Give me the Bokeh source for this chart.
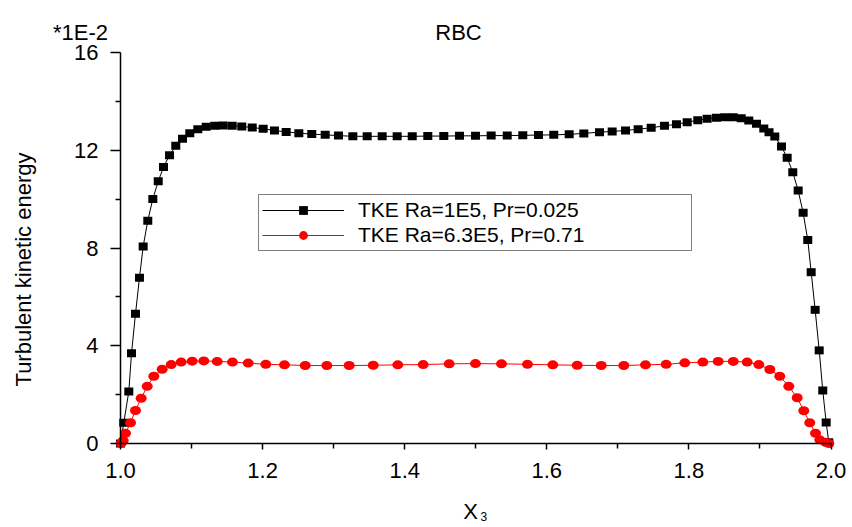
import math
from bokeh.plotting import figure
from bokeh.models import (ColumnDataSource, Range1d, FixedTicker, Label, Legend,
                          LegendItem, PrintfTickFormatter)
from bokeh.embed import file_html
from bokeh.resources import INLINE

# ---------------- data ----------------
x_black = [1.0000, 1.0046, 1.0117, 1.0155, 1.0211, 1.0267, 1.0319, 1.0384, 1.0455,
           1.0531, 1.0605, 1.0690, 1.0778, 1.0873, 1.0975, 1.1088, 1.1206, 1.1327,
           1.1445, 1.1572, 1.1707, 1.1854, 1.2008, 1.2167, 1.2332, 1.2510, 1.2692,
           1.2881, 1.3068, 1.3270, 1.3472, 1.3683, 1.3894, 1.4106, 1.4325, 1.4550,
           1.4771, 1.4996, 1.5217, 1.5443, 1.5662, 1.5883, 1.6098, 1.6315, 1.6521,
           1.6742, 1.6920, 1.7108, 1.7286, 1.7469, 1.7656, 1.7825, 1.7976, 1.8125,
           1.8257, 1.8388, 1.8505, 1.8624, 1.8736, 1.8843, 1.8951, 1.9054, 1.9128,
           1.9209, 1.9303, 1.9383, 1.9462, 1.9538, 1.9608, 1.9673, 1.9721, 1.9777,
           1.9834, 1.9884, 1.9932, 1.9969]
tke_black = [0.00, 0.85, 2.13, 3.69, 5.31, 6.78, 8.06, 9.12, 10.01,
             10.73, 11.31, 11.80, 12.18, 12.47, 12.70, 12.86, 12.96, 13.00,
             13.01, 13.00, 12.97, 12.93, 12.88, 12.81, 12.75, 12.70, 12.66,
             12.63, 12.60, 12.57, 12.57, 12.57, 12.57, 12.57, 12.58, 12.58,
             12.59, 12.59, 12.60, 12.60, 12.61, 12.62, 12.63, 12.65, 12.69,
             12.74, 12.77, 12.81, 12.86, 12.92, 13.00, 13.06, 13.15, 13.23,
             13.29, 13.33, 13.35, 13.35, 13.31, 13.22, 13.08, 12.89, 12.74,
             12.56, 12.15, 11.69, 11.10, 10.35, 9.44, 8.33, 7.01, 5.47,
             3.81, 2.17, 0.86, 0.05]

x_red = [1.0007, 1.0038, 1.0070, 1.0141, 1.0211, 1.0291, 1.0376, 1.0469, 1.0587,
         1.0714, 1.0854, 1.1009, 1.1172, 1.1361, 1.1576, 1.1797, 1.2045, 1.2308,
         1.2600, 1.2904, 1.3219, 1.3557, 1.3903, 1.4260, 1.4626, 1.4996, 1.5362,
         1.5728, 1.6084, 1.6428, 1.6766, 1.7084, 1.7389, 1.7680, 1.7942, 1.8196,
         1.8412, 1.8624, 1.8820, 1.8984, 1.9139, 1.9279, 1.9406, 1.9524, 1.9617,
         1.9701, 1.9782, 1.9842, 1.9923, 1.9969]
tke_red = [0.00, 0.12, 0.42, 0.85, 1.35, 1.85, 2.34, 2.75, 3.04,
           3.23, 3.33, 3.37, 3.38, 3.36, 3.33, 3.29, 3.24, 3.22,
           3.19, 3.19, 3.19, 3.20, 3.22, 3.23, 3.26, 3.27, 3.26,
           3.24, 3.22, 3.20, 3.19, 3.19, 3.22, 3.24, 3.30, 3.33,
           3.36, 3.36, 3.33, 3.23, 3.03, 2.75, 2.34, 1.87, 1.34,
           0.85, 0.42, 0.15, 0.05, 0.00]

label_black = "TKE Ra=1E5, Pr=0.025"
label_red = "TKE Ra=6.3E5, Pr=0.71"

x_ticks = [1.0, 1.2, 1.4, 1.6, 1.8, 2.0]
x_minor = [1.1, 1.3, 1.5, 1.7, 1.9]
y_ticks = [0, 4, 8, 12, 16]
y_minor = [2, 6, 10, 14]

FONT = "Liberation Sans"

# ---------------- layout ----------------
W, H = 852, 527
AX_L, AX_R, AX_T, AX_B = 120.0, 830.5, 52.0, 443.0   # pixel box of the axes
X0, X1, Y0, Y1 = 1.0, 2.0, 0.0, 16.0


def sx(px):
    return X0 + (px - AX_L) / (AX_R - AX_L) * (X1 - X0)


def sy(py):
    return Y0 + (AX_B - py) / (AX_B - AX_T) * (Y1 - Y0)


p = figure(width=W, height=H, output_backend="svg", toolbar_location=None,
           title=None, x_range=Range1d(sx(0), sx(W)), y_range=Range1d(sy(H), sy(0)),
           min_border_left=0, min_border_right=0, min_border_top=0,
           min_border_bottom=0)
p.outline_line_color = None
p.xgrid.visible = False
p.ygrid.visible = False
p.background_fill_color = "white"
p.border_fill_color = "white"

for ax in (p.xaxis[0], p.yaxis[0]):
    ax.axis_line_color = "black"
    ax.axis_line_width = 1.5
    ax.major_tick_line_color = "black"
    ax.minor_tick_line_color = "black"
    ax.major_tick_line_width = 1.5
    ax.minor_tick_line_width = 1.5
    ax.major_tick_in = 0
    ax.minor_tick_in = 0
    ax.major_label_text_font = FONT
    ax.major_label_text_font_size = "22px"
    ax.major_label_text_color = "black"

p.xaxis.fixed_location = Y0
p.xaxis.bounds = (X0, X1)
p.xaxis.ticker = FixedTicker(ticks=x_ticks, minor_ticks=x_minor)
p.xaxis.formatter = PrintfTickFormatter(format="%.1f")
p.xaxis.major_tick_out = 6
p.xaxis.minor_tick_out = 5
p.xaxis.major_label_standoff = 13

p.yaxis.fixed_location = X0
p.yaxis.bounds = (Y0, Y1)
p.yaxis.ticker = FixedTicker(ticks=y_ticks, minor_ticks=y_minor)
p.yaxis.major_tick_out = 10
p.yaxis.minor_tick_out = 5
p.yaxis.major_label_standoff = 12

# ---------------- series ----------------
src_b = ColumnDataSource(dict(x=x_black, y=tke_black))
src_r = ColumnDataSource(dict(x=x_red, y=tke_red))

p.line("x", "y", source=src_b, line_color="black", line_width=1)
p.rect("x", "y", source=src_b, width=9, height=8, width_units="screen",
       height_units="screen", fill_color="black", line_color=None)

p.line("x", "y", source=src_r, line_color="#ff0000", line_width=1)
p.ellipse("x", "y", source=src_r, width=11, height=9, width_units="screen",
          height_units="screen", fill_color="#ff0000", line_color=None)

# legend proxies (a single NaN row: nothing drawn, but the legend sample is)
nan = float("nan")
lb = p.line(x=[nan], y=[nan], line_color="black", line_width=1)
mb = p.scatter(x=[nan], y=[nan], marker="square", fill_color="black", line_color=None)
lr = p.line(x=[nan], y=[nan], line_color="#ff0000", line_width=1)
mr = p.scatter(x=[nan], y=[nan], marker="circle", fill_color="#ff0000", line_color=None)

LEG_L, LEG_B = 258, 251
legend = Legend(items=[LegendItem(label=label_black, renderers=[lb, mb]),
                       LegendItem(label=label_red, renderers=[lr, mr])],
                location=(LEG_L, H - LEG_B), orientation="vertical", padding=3,
                spacing=1, margin=0, glyph_width=82, glyph_height=22,
                label_height=22, label_width=330, label_standoff=14,
                label_text_font=FONT, label_text_font_size="21px",
                label_text_color="black", border_line_color="black",
                border_line_width=1, background_fill_color="white",
                background_fill_alpha=1.0)
p.add_layout(legend)

# ---------------- texts ----------------
def add_text(text, px, py, size, align="center", baseline="alphabetic", angle=0.0):
    p.add_layout(Label(x=sx(px), y=sy(py), text=text, text_align=align,
                       text_baseline=baseline, text_font=FONT, angle=angle,
                       text_font_size=size, text_color="black"))


add_text("*1E-2", 80, 31.5, "22px")
add_text("RBC", 458, 31.5, "22px")
add_text("Turbulent kinetic energy", 23, 269, "22px", baseline="middle",
         angle=math.pi / 2)
add_text("X", 470, 511, "22px")
add_text("3", 480, 516, "12px", align="left")

open("out.html", "w").write(file_html(p, INLINE))
